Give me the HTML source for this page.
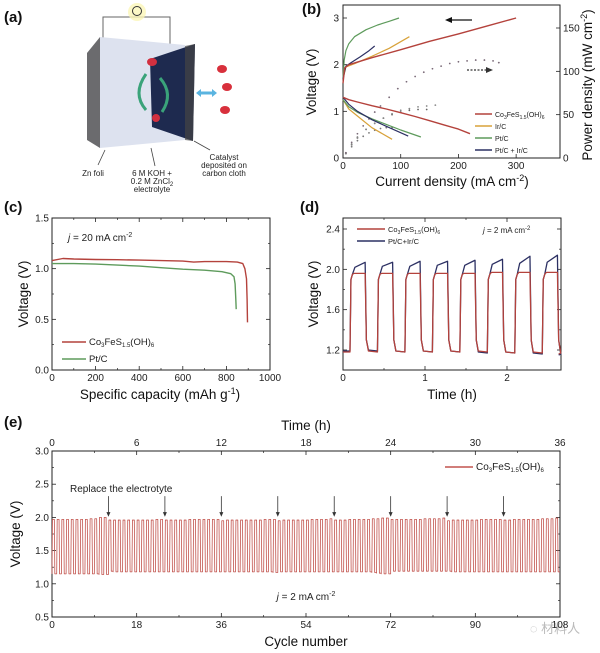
<!DOCTYPE html>
<html><head><meta charset="utf-8"><style>
html,body{margin:0;padding:0;background:#fff;}
svg{display:block;font-family:"Liberation Sans",Arial,sans-serif;}
.t{font-size:10px;fill:#222;}
.al{font-size:13.5px;fill:#111;}
.pl{font-size:15px;font-weight:bold;fill:#111;}
.sm{font-size:8px;fill:#222;}
</style></head><body>
<svg id="fig" width="600" height="653" viewBox="0 0 600 653">
<!-- Panel labels -->
<text class="pl" x="4" y="22">(a)</text>
<text class="pl" x="302" y="14">(b)</text>
<text class="pl" x="4" y="212">(c)</text>
<text class="pl" x="300" y="212">(d)</text>
<text class="pl" x="4" y="427">(e)</text>

<!-- Panel a illustration -->
<g>
  <polyline points="103,38 103,17 170,17 170,48" fill="none" stroke="#666" stroke-width="1"/>
  <circle cx="137" cy="12" r="9" fill="#fbf6b8" opacity="0.8"/>
  <circle cx="137" cy="11" r="4.5" fill="none" stroke="#333" stroke-width="1"/>
  <polygon points="87,53 100,37 100,148 87,140" fill="#6b6b6e"/>
  <polygon points="100,37 185,45 185,140 100,148" fill="#dde2ef"/>
  <polygon points="150,59 195,44 193,141 152,127" fill="#1e2a4f"/>
  <polygon points="185,46 195,44 193,141 185,140" fill="#444" opacity="0.7"/>
  <path d="M146,74 Q132,94 146,110" fill="none" stroke="#3aa37a" stroke-width="3"/>
  <path d="M160,78 Q174,94 162,112" fill="none" stroke="#3aa37a" stroke-width="3"/>
  <ellipse cx="152" cy="62" rx="5" ry="4" fill="#d23040"/>
  <ellipse cx="156" cy="118" rx="4" ry="4" fill="#d23040"/>
  <line x1="199" y1="93" x2="214" y2="93" stroke="#5ab4e0" stroke-width="3"/>
  <polygon points="196,93 201,89 201,97" fill="#5ab4e0"/><polygon points="217,93 212,89 212,97" fill="#5ab4e0"/>
  <ellipse cx="222" cy="69" rx="5" ry="4" fill="#d8303c"/>
  <ellipse cx="227" cy="87" rx="5" ry="4" fill="#d8303c"/>
  <ellipse cx="225" cy="110" rx="5" ry="4" fill="#d8303c"/>
  <line x1="105" y1="150" x2="98" y2="165" stroke="#444" stroke-width="0.8"/>
  <line x1="151" y1="148" x2="155" y2="166" stroke="#444" stroke-width="0.8"/>
  <line x1="194" y1="141" x2="210" y2="150" stroke="#444" stroke-width="0.8"/>
  <text class="sm" x="93" y="176" text-anchor="middle">Zn foli</text>
  <text class="sm" x="152" y="176" text-anchor="middle">6 M KOH +</text>
  <text class="sm" x="152" y="184" text-anchor="middle">0.2 M ZnCl<tspan font-size="6" dy="2">2</tspan></text>
  <text class="sm" x="152" y="192" text-anchor="middle">electrolyte</text>
  <text class="sm" x="224" y="160" text-anchor="middle">Catalyst</text>
  <text class="sm" x="224" y="168" text-anchor="middle">deposited on</text>
  <text class="sm" x="224" y="176" text-anchor="middle">carbon cloth</text>
</g>

<!-- Panel b static text -->
<text class="al" transform="translate(316,82) rotate(-90)" text-anchor="middle">Voltage (V)</text>
<text class="al" transform="translate(592,85) rotate(-90)" text-anchor="middle">Power density (mW cm<tspan font-size="9" dy="-5">-2</tspan><tspan dy="5">)</tspan></text>
<text class="al" x="452" y="186" text-anchor="middle">Current density (mA cm<tspan font-size="9" dy="-5">-2</tspan><tspan dy="5">)</tspan></text>
<!-- Panel c text -->
<text class="al" transform="translate(28,294) rotate(-90)" text-anchor="middle">Voltage (V)</text>
<text class="al" x="160" y="399" text-anchor="middle">Specific capacity (mAh g<tspan font-size="9" dy="-5">-1</tspan><tspan dy="5">)</tspan></text>
<text class="t" x="68" y="241"><tspan font-style="italic">j</tspan> = 20 mA cm<tspan font-size="7" dy="-4">-2</tspan></text>
<!-- Panel d text -->
<text class="al" transform="translate(318,294) rotate(-90)" text-anchor="middle">Voltage (V)</text>
<text class="al" x="452" y="399" text-anchor="middle">Time (h)</text>
<text class="sm" x="483" y="233"><tspan font-style="italic">j</tspan> = 2 mA cm<tspan font-size="6" dy="-3">-2</tspan></text>
<!-- Panel e text -->
<text class="al" transform="translate(20,534) rotate(-90)" text-anchor="middle">Voltage (V)</text>
<text class="al" x="306" y="646" text-anchor="middle">Cycle number</text>
<text class="al" x="306" y="430" text-anchor="middle">Time (h)</text>
<text class="t" x="70" y="492">Replace the electrotyte</text>
<text class="t" x="306" y="600" text-anchor="middle"><tspan font-style="italic">j</tspan> = 2 mA cm<tspan font-size="7" dy="-4">-2</tspan></text>
<text x="555" y="633" font-size="13" fill="#bbb" text-anchor="middle" font-family="'Liberation Sans','Noto Sans CJK SC',sans-serif">◌ 材料人</text>
</svg>
<script>
// ---- Panel b data ----
const bCoDisJ=[0,10,25,50,75,100,125,150,175,200,220];
const bCoDisV=[1.3,1.25,1.2,1.12,1.05,0.97,0.89,0.8,0.71,0.62,0.52];
const bCoChJ=[0,3,10,50,100,150,200,250,300];
const bCoChV=[1.6,1.93,2.0,2.15,2.32,2.5,2.66,2.83,3.0];
const bIrChJ=[0,5,20,50,80,115];
const bIrChV=[1.7,1.95,2.02,2.18,2.35,2.6];
const bIrDisJ=[0,10,25,50,85];
const bIrDisV=[1.25,1.05,0.9,0.65,0.4];
const bPtChJ=[0,2,5,10,20,40,60,80,97];
const bPtChV=[1.7,2.1,2.3,2.45,2.6,2.75,2.85,2.93,3.0];
const bPtDisJ=[0,10,25,50,75,100,135];
const bPtDisV=[1.25,1.1,0.98,0.84,0.72,0.6,0.45];
const bPIChJ=[0,5,15,30,45,55];
const bPIChV=[1.7,1.97,2.05,2.17,2.3,2.4];
const bPIDisJ=[0,10,25,50,75,113];
const bPIDisV=[1.3,1.15,1.0,0.82,0.68,0.47];
const bCoPJ=[5,15,25,35,45,55,65,80,95,110,125,140,155,170,185,200,215,230,245,260,270];
const bCoP=[6,18,28,37,45,53,60,70,80,88,94,99,103,106,109,111,112,113,113,112,110];
const bPtPJ=[5,15,25,40,55,70,85,100,115,130,145,160];
const bPtP=[5,15,23,33,40,46,51,55,57,59,60,61];
const bIrPJ=[5,15,25,35,45,55,65,75,85];
const bIrP=[5,13,20,25,29,32,34,35,35];
const bPIPJ=[5,15,25,40,55,70,85,100,115,130,145];
const bPIP=[6,16,24,33,40,46,50,53,55,56,56];
const bXTicks=[0,100,200,300];
const bYTicks=[0,1,2,3];
const bPTicks=[0,50,100,150];
// ---- Panel c data ----
const cCoCap=[0,50,100,200,300,400,500,600,650,700,800,850,875,885,892,895,897];
const cCoV=[1.08,1.1,1.095,1.09,1.088,1.085,1.08,1.075,1.065,1.07,1.07,1.065,1.05,1.0,0.9,0.7,0.47];
const cPtCap=[0,100,200,300,400,500,600,700,780,820,835,840,843,845];
const cPtV=[1.05,1.05,1.045,1.035,1.025,1.01,0.995,0.985,0.97,0.95,0.92,0.85,0.7,0.6];
const cXTicks=[0,200,400,600,800,1000];
const cYTicks=[0,0.5,1.0,1.5];
// ---- Panel d data ----
const dRise=[0.085,0.42,0.755,1.09,1.425,1.76,2.095,2.43];
const dFall=[0.275,0.61,0.945,1.28,1.615,1.95,2.285,2.62];
const dCoHigh=[1.96,1.96,1.96,1.96,1.96,1.97,1.97,1.97];
const dCoLow=[1.18,1.18,1.18,1.18,1.18,1.17,1.17,1.16];
const dPIStart=[2.02,2.03,2.03,2.04,2.04,2.05,2.06,2.07];
const dPIEnd=[2.07,2.07,2.08,2.08,2.09,2.10,2.13,2.14];
const dPILow=[1.19,1.18,1.18,1.18,1.17,1.17,1.16,1.15];
const dXTicks=[0,1,2];
const dYTicks=[1.2,1.6,2.0,2.4];
// ---- Panel e data ----
const eHigh=[1.97,1.97,1.97,1.97,1.97,1.97,1.97,1.97,1.98,1.98,2.0,2.0,
1.96,1.96,1.96,1.96,1.96,1.96,1.96,1.96,1.96,1.96,1.97,1.97,
1.96,1.96,1.96,1.96,1.96,1.97,1.97,1.97,1.97,1.97,1.97,1.97,
1.95,1.96,1.96,1.96,1.96,1.96,1.96,1.96,1.96,1.97,1.97,1.97,
1.95,1.96,1.96,1.96,1.96,1.96,1.96,1.97,1.97,1.97,1.97,1.98,
1.96,1.96,1.96,1.97,1.97,1.97,1.97,1.97,1.98,1.98,1.99,1.99,
1.97,1.97,1.97,1.97,1.97,1.97,1.97,1.98,1.98,1.98,1.98,1.99,
1.95,1.96,1.96,1.96,1.96,1.96,1.96,1.97,1.97,1.97,1.97,1.97,
1.96,1.96,1.97,1.97,1.97,1.97,1.97,1.97,1.98,1.98,1.98,1.99];
const eLow=[1.15,1.15,1.15,1.15,1.15,1.15,1.15,1.15,1.15,1.15,1.14,1.14,
1.19,1.18,1.18,1.18,1.18,1.18,1.18,1.18,1.18,1.18,1.18,1.18,
1.18,1.18,1.18,1.18,1.18,1.18,1.18,1.18,1.18,1.18,1.18,1.18,
1.18,1.18,1.18,1.18,1.18,1.18,1.18,1.18,1.18,1.18,1.18,1.17,
1.18,1.18,1.18,1.18,1.18,1.18,1.18,1.18,1.18,1.18,1.18,1.18,
1.18,1.18,1.18,1.18,1.18,1.18,1.18,1.18,1.17,1.16,1.15,1.15,
1.19,1.19,1.19,1.19,1.19,1.19,1.19,1.19,1.19,1.19,1.19,1.19,
1.19,1.18,1.18,1.18,1.18,1.18,1.18,1.18,1.18,1.18,1.18,1.18,
1.18,1.18,1.18,1.18,1.18,1.18,1.18,1.18,1.18,1.18,1.18,1.18];
const eArrows=[12,24,36,48,60,72,84,96];
const eXTicks=[0,18,36,54,72,90,108];
const eTopTicks=[0,6,12,18,24,30,36];
const eYTicks=[0.5,1.0,1.5,2.0,2.5,3.0];

const NS='http://www.w3.org/2000/svg';
const svg=document.getElementById('fig');
function lin(d0,d1,r0,r1){return v=>r0+(v-d0)*(r1-r0)/(d1-d0);}
function mk(tag,attrs,name){
  const el=document.createElementNS(NS,tag);
  for(const k in attrs) el.setAttribute(k,attrs[k]);
  
  
  svg.appendChild(el);return el;
}
function txt(x,y,s,anchor,name,size){
  const el=mk('text',{x:x,y:y,'text-anchor':anchor||'middle','font-size':size||10,fill:'#222'},name);
  el.textContent=s;return el;
}
function fmt(v){return (Math.abs(v-Math.round(v))<1e-9&&v>=10)||v===0&&false?String(v):String(v);}
function line(xs,ys,fx,fy,color,w,name,dash){
  const pts=xs.map((x,i)=>fx(x).toFixed(1)+','+fy(ys[i]).toFixed(1)).join(' ');
  const a={points:pts,fill:'none',stroke:color,'stroke-width':w||1.4,'stroke-linejoin':'round'};
  if(dash)a['stroke-dasharray']=dash;
  return mk('polyline',a,name);
}
function dots(xs,ys,fx,fy,color,name){
  xs.forEach((x,i)=>{
    const c=mk('circle',{cx:fx(x),cy:fy(ys[i]),r:0.9,fill:color},name);
  });
}
function frame(x0,y0,x1,y1,name){mk('rect',{x:x0,y:y0,width:x1-x0,height:y1-y0,fill:'none',stroke:'#222','stroke-width':1},name);}
function xticks(ticks,fx,yb,yt,name,labels,dec){
  ticks.forEach((t,i)=>{
    mk('line',{x1:fx(t),x2:fx(t),y1:yb,y2:yb-4,stroke:'#222','stroke-width':0.8},name+'-tick');
    if(yt!==null) mk('line',{x1:fx(t),x2:fx(t),y1:yt,y2:yt+4,stroke:'#222','stroke-width':0.8},name+'-tick-top');
    if(labels) txt(fx(t),yb+11,dec!==undefined?t.toFixed(dec):String(t),'middle',name+'-label');
    if(i<ticks.length-1){const m=(t+ticks[i+1])/2;
      mk('line',{x1:fx(m),x2:fx(m),y1:yb,y2:yb-2,stroke:'#222','stroke-width':0.7},name+'-minor');
      if(yt!==null) mk('line',{x1:fx(m),x2:fx(m),y1:yt,y2:yt+2,stroke:'#222','stroke-width':0.7},name+'-minor');}
  });
}
function yticks(ticks,fy,xl,xr,name,dec,labelRight){
  ticks.forEach((t,i)=>{
    mk('line',{x1:xl,x2:xl+4,y1:fy(t),y2:fy(t),stroke:'#222','stroke-width':0.8},name+'-tick');
    if(xr!==null) mk('line',{x1:xr,x2:xr-4,y1:fy(t),y2:fy(t),stroke:'#222','stroke-width':0.8},name+'-tick-right');
    txt(xl-3,fy(t)+3.5,dec!==undefined?t.toFixed(dec):String(t),'end',name+'-label');
    if(i<ticks.length-1){const m=(t+ticks[i+1])/2;
      mk('line',{x1:xl,x2:xl+2,y1:fy(m),y2:fy(m),stroke:'#222','stroke-width':0.7},name+'-minor');
      if(xr!==null) mk('line',{x1:xr,x2:xr-2,y1:fy(m),y2:fy(m),stroke:'#222','stroke-width':0.7},name+'-minor');}
  });
}
function legendLine(x,y,len,color,label,name,sub){
  mk('line',{x1:x,x2:x+len,y1:y,y2:y,stroke:color,'stroke-width':1.5},name+'-swatch');
  const t=mk('text',{x:x+len+3,y:y+3,'font-size':sub?sub:8,fill:'#222'},name);
  t.innerHTML=label;
}
const RED='#b4423c',GRN='#5e9b5c',ORG='#d8a23a',NAV='#2c3063';
const coLabel=s=>'Co<tspan font-size="'+s+'" dy="2">3</tspan><tspan dy="-2">FeS</tspan><tspan font-size="'+s+'" dy="2">1.5</tspan><tspan dy="-2">(OH)</tspan><tspan font-size="'+s+'" dy="2">6</tspan>';

// ===== Panel b =====
const bx=lin(0,376,343,560), by=lin(0,3,158,18), bp=lin(0,150,158,28);
frame(343,5,560,158,'b-plot-frame');
bXTicks.forEach(t=>{mk('line',{x1:bx(t),x2:bx(t),y1:158,y2:154,stroke:'#222','stroke-width':0.8},'b-x-tick');txt(bx(t),169,String(t),'middle','b-x-tick-label');});
bYTicks.forEach(t=>{mk('line',{x1:343,x2:347,y1:by(t),y2:by(t),stroke:'#222','stroke-width':0.8},'b-y-tick');txt(339,by(t)+3.5,String(t),'end','b-y-tick-label');});
bPTicks.forEach(t=>{mk('line',{x1:560,x2:556,y1:bp(t),y2:bp(t),stroke:'#222','stroke-width':0.8},'b-power-tick');txt(563,bp(t)+3.5,String(t),'start','b-power-tick-label');});
dots(bIrPJ,bIrP,bx,bp,'#777','b-irc-power-point');
dots(bPIPJ,bPIP,bx,bp,'#666','b-ptir-power-point');
dots(bPtPJ,bPtP,bx,bp,'#888','b-ptc-power-point');
dots(bCoPJ,bCoP,bx,bp,'#7a6a78','b-co-power-point');
line(bIrChJ,bIrChV,bx,by,ORG,1.2,'b-irc-charge-curve');
line(bIrDisJ,bIrDisV,bx,by,ORG,1.2,'b-irc-discharge-curve');
line(bPtChJ,bPtChV,bx,by,GRN,1.2,'b-ptc-charge-curve');
line(bPtDisJ,bPtDisV,bx,by,GRN,1.2,'b-ptc-discharge-curve');
line(bPIChJ,bPIChV,bx,by,NAV,1.2,'b-ptir-charge-curve');
line(bPIDisJ,bPIDisV,bx,by,NAV,1.2,'b-ptir-discharge-curve');
line(bCoChJ,bCoChV,bx,by,RED,1.4,'b-co-charge-curve');
line(bCoDisJ,bCoDisV,bx,by,RED,1.4,'b-co-discharge-curve');
mk('line',{x1:450,x2:472,y1:20,y2:20,stroke:'#111','stroke-width':1.3},'b-voltage-axis-arrow');
mk('polygon',{points:'445,20 452,17 452,23',fill:'#111'},'b-voltage-axis-arrowhead');
mk('line',{x1:467,x2:487,y1:70,y2:70,stroke:'#333','stroke-width':1.3,'stroke-dasharray':'2,1.5'},'b-power-axis-arrow');
mk('polygon',{points:'493,70 486,67 486,73',fill:'#333'},'b-power-axis-arrowhead');
legendLine(475,114,17,RED,coLabel(5),'b-legend-co',7);
legendLine(475,126,17,ORG,'Ir/C','b-legend-irc',7);
legendLine(475,138,17,GRN,'Pt/C','b-legend-ptc',7);
legendLine(475,150,17,NAV,'Pt/C + Ir/C','b-legend-ptir',7);

// ===== Panel c =====
const cx=lin(0,1000,52,270), cy=lin(0,1.5,370,218);
frame(52,218,270,370,'c-plot-frame');
xticks(cXTicks,cx,370,218,'c-x',true);
yticks(cYTicks,cy,52,270,'c-y',1);
line(cPtCap,cPtV,cx,cy,GRN,1.4,'c-ptc-curve');
line(cCoCap,cCoV,cx,cy,RED,1.4,'c-co-curve');
legendLine(62,342,24,RED,coLabel(6),'c-legend-co',9.5);
legendLine(62,359,24,GRN,'Pt/C','c-legend-ptc',9.5);

// ===== Panel d =====
const dx=lin(0,1,343,425), dy=lin(1.2,2.4,350,229);
frame(343,218,561,370,'d-plot-frame');
xticks(dXTicks,dx,370,218,'d-x',true);
yticks(dYTicks,dy,343,561,'d-y',1);
function dPath(high0,high1,low,isPI,color,name){
  let d='M'+dx(0)+','+dy(isPI?1.19:1.18);
  dRise.forEach((r,i)=>{
    const pl=i===0?(isPI?1.19:1.18):low[i-1];
    d+=' L'+dx(r)+','+dy(pl);
    d+=' L'+dx(r+0.012)+','+dy(1.9);
    d+=' L'+dx(r+0.03)+','+dy(1.95);
    if(isPI){d+=' L'+dx(r+0.06)+','+dy(high0[i])+' L'+dx(dFall[i]-0.005)+','+dy(high1[i]);}
    else{d+=' L'+dx(r+0.05)+','+dy(high0[i])+' L'+dx(dFall[i]-0.005)+','+dy(high0[i]);}
    d+=' L'+dx(dFall[i]+0.01)+','+dy(1.3);
    d+=' L'+dx(dFall[i]+0.035)+','+dy(low[i]+0.01);
    d+=' L'+dx(Math.min(dFall[i]+0.145,2.63))+','+dy(low[i]);
  });
  mk('path',{d:d,fill:'none',stroke:color,'stroke-width':1.3,'stroke-linejoin':'round'},name);
}
dPath(dPIStart,dPIEnd,dPILow,true,NAV,'d-ptir-curve');
dPath(dCoHigh,dCoHigh,dCoLow,false,RED,'d-co-curve');
legendLine(357,229,28,RED,coLabel(5),'d-legend-co',7.5);
legendLine(357,241,28,NAV,'Pt/C+Ir/C','d-legend-ptir',7.5);

// ===== Panel e =====
const ex=lin(0,108,52,560), ey=lin(0.5,3,617,451);
frame(52,451,560,617,'e-plot-frame');
xticks(eXTicks,ex,617,451,'e-x',true);
eTopTicks.forEach(t=>{txt(ex(t*3),446,String(t),'middle','e-top-tick-label');});
yticks(eYTicks,ey,52,560,'e-y',1);
let ed='M'+ex(0)+','+ey(eLow[0]);
eHigh.forEach((h,i)=>{
  ed+=' L'+ex(i)+','+ey(eLow[i])+' L'+ex(i+0.1)+','+ey(h)+' L'+ex(i+0.5)+','+ey(h)+' L'+ex(i+0.6)+','+ey(eLow[i])+' L'+ex(i+1)+','+ey(eLow[i]);
});
mk('path',{d:ed,fill:'none',stroke:'#c2544e','stroke-width':0.8,'stroke-linejoin':'round'},'e-co-cycling-curve');
eArrows.forEach(c=>{
  mk('line',{x1:ex(c),x2:ex(c),y1:ey(2.32),y2:ey(2.06),stroke:'#333','stroke-width':0.8},'e-replace-arrow');
  mk('polygon',{points:ex(c)+','+ey(2.01)+' '+(ex(c)-2)+','+ey(2.08)+' '+(ex(c)+2)+','+ey(2.08),fill:'#333'},'e-replace-arrowhead');
});
legendLine(445,467,28,'#c2544e',coLabel(6),'e-legend-co',10);
</script>
</body></html>
